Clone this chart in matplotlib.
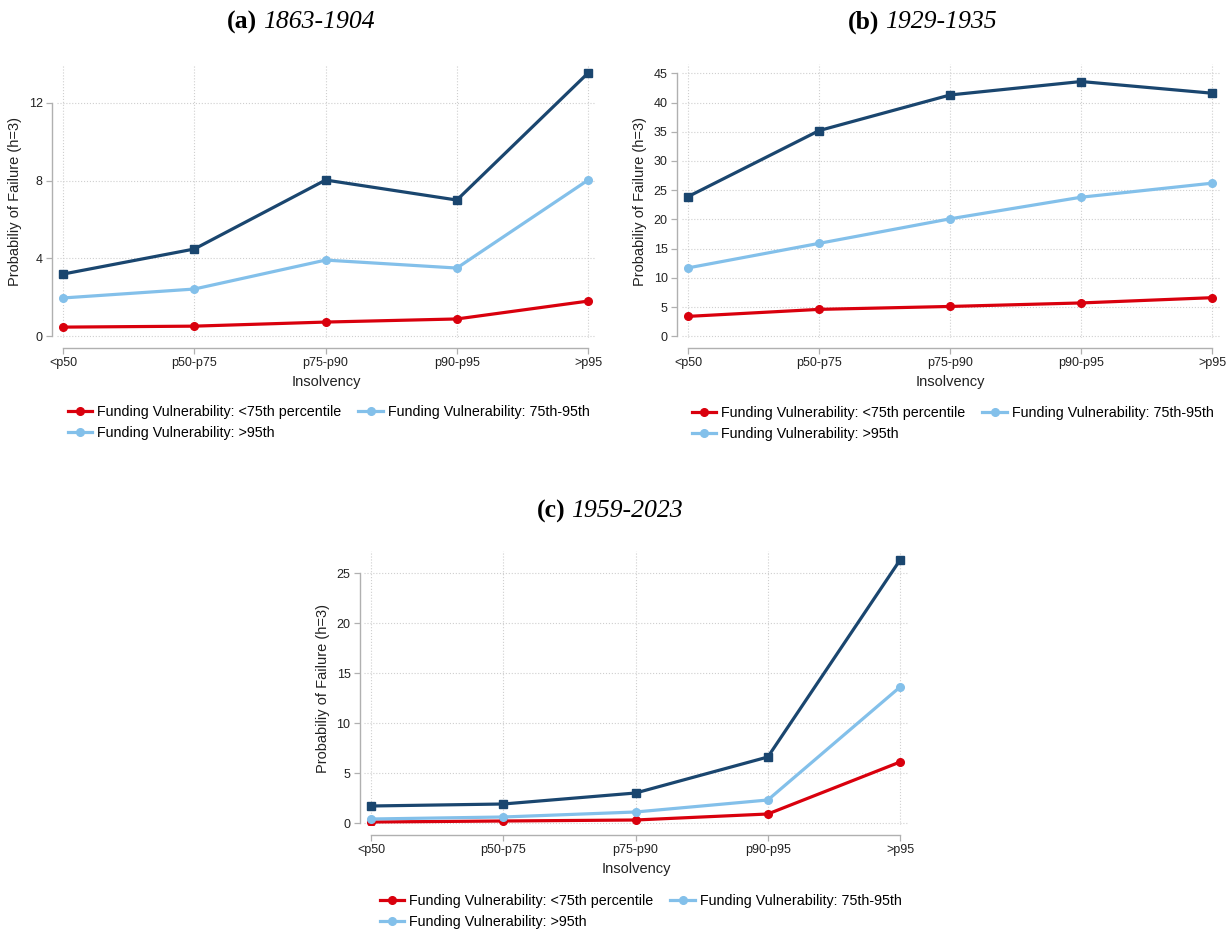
import numpy as np
import matplotlib.pyplot as plt
from matplotlib.lines import Line2D

# categories on the x axis
cats = ['<p50', 'p50-p75', 'p75-p90', 'p90-p95', '>p95']

# panel (a) 1863-1904
a_low = [0.46, 0.51, 0.72, 0.88, 1.80]
a_mid = [1.96, 2.42, 3.91, 3.50, 8.03]
a_high = [3.19, 4.48, 8.03, 7.00, 13.54]

# panel (b) 1929-1935
b_low = [3.4, 4.6, 5.1, 5.7, 6.6]
b_mid = [11.7, 15.9, 20.1, 23.8, 26.2]
b_high = [23.9, 35.2, 41.3, 43.6, 41.6]

# panel (c) 1959-2023
c_low = [0.1, 0.2, 0.3, 0.9, 6.1]
c_mid = [0.4, 0.6, 1.1, 2.3, 13.6]
c_high = [1.7, 1.9, 3.0, 6.6, 26.3]

labels = ['Funding Vulnerability: <75th percentile',
          'Funding Vulnerability: 75th-95th',
          'Funding Vulnerability: >95th']

RED = '#d9000d'
LIGHT = '#83c0ea'
DARK = '#1a466f'
W, H = 1231, 930

plt.rcParams['font.family'] = ['Liberation Sans', 'DejaVu Sans']

fig = plt.figure(figsize=(W / 100, H / 100), dpi=100)


def px_axes(l, t, r, b):
    return fig.add_axes([l / W, 1 - b / H, (r - l) / W, (b - t) / H])


def panel(box, low, mid, high, yticks, ylim, tag, years, split_x, title_y, leg_x, leg_y):
    ax = px_axes(*box)
    x = np.arange(len(cats))
    ax.plot(x, low, color=RED, lw=2.3, marker='o', ms=5.5, zorder=3)
    ax.plot(x, mid, color=LIGHT, lw=2.3, marker='o', ms=5.5, zorder=3)
    ax.plot(x, high, color=DARK, lw=2.3, marker='s', ms=5.5, zorder=4)
    ax.set_xlim(-0.05, 4.06)
    ax.set_ylim(*ylim)
    ax.set_xticks(x)
    ax.set_xticklabels(cats)
    ax.set_yticks(yticks)
    ax.grid(True, color='#cfcfcf', ls=':', lw=0.8)
    ax.set_axisbelow(True)
    for s in ['top', 'right']:
        ax.spines[s].set_visible(False)
    ax.spines['left'].set_position(('outward', 3))
    ax.spines['bottom'].set_position(('outward', 7))
    ax.spines['left'].set_bounds(yticks[0], yticks[-1])
    ax.spines['bottom'].set_bounds(0, 4)
    for s in ['left', 'bottom']:
        ax.spines[s].set_color('#b0b0b0')
        ax.spines[s].set_linewidth(1.0)
    ax.tick_params(colors='#b0b0b0', labelcolor='#222222', labelsize=9, length=4, width=0.9, pad=3)
    ax.set_xlabel('Insolvency', fontsize=10.5, color='#222222', labelpad=4)
    ax.set_ylabel('Probabiliy of Failure (h=3)', fontsize=10.5, color='#222222', labelpad=5)
    ty = 1 - title_y / H
    fig.text((split_x - 3) / W, ty, '(' + tag + ')', ha='right', va='center', fontsize=18.5,
             family='Liberation Serif', fontweight='bold')
    fig.text((split_x + 3) / W, ty, years, ha='left', va='center', fontsize=18.5,
             family='Liberation Serif', fontstyle='italic')
    handles = [Line2D([], [], color=RED, lw=2.3, marker='o', ms=5.5),
               Line2D([], [], color=LIGHT, lw=2.3, marker='o', ms=5.5),
               Line2D([], [], color=LIGHT, lw=2.3, marker='o', ms=5.5)]
    order = [0, 2, 1]
    fig.legend([handles[i] for i in order], [labels[i] for i in order], ncol=2,
               loc='upper left', bbox_to_anchor=(leg_x / W, 1 - leg_y / H),
               frameon=False, fontsize=10.3, handlelength=1.7, columnspacing=1.2,
               labelspacing=0.5, handletextpad=0.35, borderaxespad=0)
    return ax


panel((56.5, 65, 596, 338), a_low, a_mid, a_high, [0, 4, 8, 12], (-0.1, 13.95),
      'a', '1863-1904', 260, 22, 62, 399)
panel((681.5, 64, 1220, 338), b_low, b_mid, b_high, list(range(0, 50, 5)), (-0.3, 46.6),
      'b', '1929-1935', 882, 22, 686, 400)
panel((364.4, 551, 908, 825), c_low, c_mid, c_high, list(range(0, 30, 5)), (-0.2, 27.2),
      'c', '1959-2023', 568, 511, 374, 888)

fig.savefig('out.png', dpi=100)
